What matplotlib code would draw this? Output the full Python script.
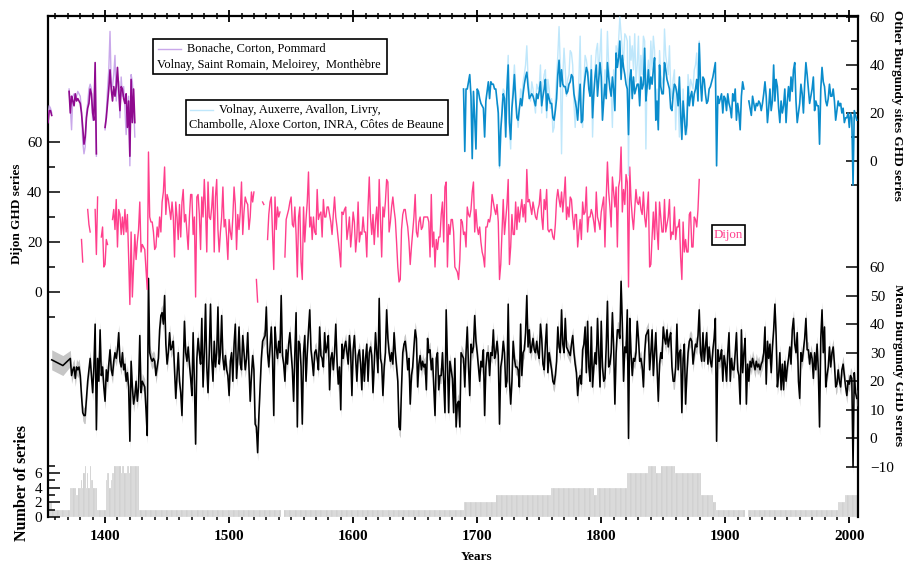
import numpy as np
import matplotlib
matplotlib.use("Agg")
import matplotlib.pyplot as plt
from matplotlib.patches import Rectangle
from matplotlib.lines import Line2D
from matplotlib.ticker import FixedLocator

nan = np.nan

# ---------------------------------------------------------------- data
# Mean Burgundy grape-harvest-date series (days), sparse start then annual
MEAN_EARLY_YEARS = [1357, 1366]
MEAN_EARLY = [27.5, 25.5]
MEAN_START = 1372
MEAN = [
    28, 22, 24, 25, 21, 25, 24, 25,
    22, 15, 9, 8, 8, 14, 20, 24, 28, 22,
    16, 25, 40, 3, 28, 20, 38, 22, 25, 18,
    13, 24, 20, 26, 31, 24, 22, 27, 30, 28,
    31, 37, 27, 25, 30, 24, 26, 20, 23, 18,
    -1, 27, 18, 12, 15, 20, 13, 18, 36, 16,
    20, 19, 18, 10, 1, 56, 30, 28, 27, 28,
    27, 22, 25, 28, 38, 43, 44, 40, 50, 33,
    26, 30, 37, 31, 32, 34, 24, 14, 22, 30,
    20, 16, 8, 25, 41, 30, 27, 32, 26, 21,
    15, 37, 20, -2, 28, 35, 30, 26, 42, 18,
    30, 47, 25, 16, 30, 47, 28, 20, 34, 25,
    30, 46, 26, 30, 43, 28, 24, 29, 24, 22,
    15, 27, 30, 20, 33, 40, 21, 28, 39, 26,
    24, 36, 30, 24, 28, 37, 25, 13, 22, 29,
    24, 5, 4, -5, 8, 18, 28, 34, 35, 36,
    46, 30, 25, 32, 39, 28, 8, 39, 32, 28,
    34, 30, 50, 29, 26, 20, 31, 26, 33, 37,
    30, 24, 13, 30, 44, 4, 34, 33, 25, 5,
    30, 36, 20, 30, 38, 45, 31, 27, 22, 30,
    31, 28, 24, 39, 29, 28, 25, 37, 30, 32,
    36, 17, 28, 30, 24, 30, 40, 27, 19, 25,
    10, 33, 28, 32, 34, 30, 26, 36, 30, 15,
    31, 36, 28, 20, 29, 31, 26, 17, 31, 20,
    28, 33, 20, 30, 32, 29, 16, 26, 37, 30,
    23, 49, 28, 26, 15, 25, 30, 45, 35, 30,
    27, 30, 26, 37, 30, 25, 20, 4, 3, 18,
    30, 33, 34, 30, 24, 28, 12, 22, 25, 32,
    38, 35, 18, 26, 29, 24, 27, 25, 26, 17,
    35, 30, 31, 24, 28, 18, 8, 28, 30, 17,
    22, 22, 30, 20, 9, 45, 27, 9, 27, 24,
    21, 9, 28, 4, 12, 13, 4, 30, 29, 28,
    18, 30, 39, 25, 15, 33, 30, 32, 43, 34,
    30, 25, 20, 27, 25, 31, 8, 25, 30, 30,
    22, 30, 29, 38, 28, 30, 34, 29, 5, 25,
    28, 34, 30, 18, 20, 47, 20, 12, 20, 34,
    28, 25, 25, 24, 18, 40, 22, 30, 31, 37,
    50, 32, 38, 30, 32, 35, 31, 30, 34, 30,
    28, 40, 35, 26, 24, 33, 40, 23, 30, 27,
    24, 20, 19, 22, 27, 39, 32, 30, 45, 33,
    30, 42, 32, 31, 30, 29, 33, 36, 30, 26,
    23, 15, 21, 22, 19, 31, 33, 39, 23, 41,
    25, 20, 39, 18, 25, 30, 26, 42, 30, 18,
    41, 25, 20, 21, 32, 48, 25, 26, 30, 44,
    32, 12, 30, 38, 38, 35, 55, 40, 20, 32,
    30, 45, 0, 42, 30, 22, 28, 27, 30, 41,
    35, 27, 28, 25, 18, 30, 36, 37, 38, 24,
    30, 38, 22, 30, 37, 25, 13, 26, 30, 28,
    39, 35, 33, 38, 32, 35, 37, 25, 20, 20,
    25, 40, 24, 30, 31, 9, 28, 33, 12, 22,
    30, 34, 35, 34, 26, 30, 33, 32, 36, 45,
    30, 27, 37, 27, 32, 37, 26, 32, 27, 25,
    31, 35, 42, -1, 31, 27, 28, 31, 20, 29,
    26, 20, 30, 37, 20, 28, 24, 24, 30, 37,
    24, 22, 12, 38, 23, 30, 35, 12, 26, 20,
    27, 25, 28, 26, 24, 27, 25, 26, 24, 26,
    27, 30, 39, 19, 34, 28, 33, 23, 32, 38,
    47, 36, 18, 22, 30, 17, 26, 17, 27, 20,
    25, 28, 32, 26, 38, 42, 33, 30, 37, 20,
    14, 30, 27, 31, 35, 42, 31, 31, 26, 30,
    28, 21, 30, 24, 33, 24, 4, 35, 45, 30,
    39, 18, 22, 25, 32, 25, 30, 32, 26, 18,
    19, 24, 20, 18, 24, 26, 22, 18, 15, 20,
    19, 22, 21, -10, 23, 16, 14,
]
MEAN_BAND_EARLY = 3.5
MEAN_BAND = 2.8

# Dijon series, annual from 1380 (nan = no harvest date)
DIJON_START = 1380
DIJON = [
    nan, 21, 12, nan, nan, nan, 33, 27, 24, nan,
    nan, nan, 33, 15, 38, nan, nan, 22, 26, 10,
    11, 21, 19, nan, nan, nan, 29, 33, 25, 37,
    18, 33, 31, 23, 30, 23, 33, 24, 31, 14,
    -5, 24, -2, 10, 23, 13, 20, 25, 36, 16,
    19, 18, 17, 9, 1, 56, 30, 28, 28, 24,
    17, 18, 26, 22, 30, 24, 36, 40, 50, 31,
    39, 37, 33, 29, 36, 30, 14, 36, 30, 21,
    35, 22, 36, 41, 28, 31, 24, 17, 30, 39,
    39, 23, 30, -2, 38, 39, 31, 17, 38, 30,
    45, 33, 16, 44, 30, 29, 34, 42, 16, 38,
    45, 25, 16, 24, 30, 42, 26, 29, 22, 13,
    29, 24, 21, 30, 42, 35, 17, 31, 25, 32,
    44, 23, 32, 38, 36, 35, 25, 30, 40, 36,
    40, nan, 5, -4, nan, nan, nan, 36, 35, nan,
    nan, 21, 31, 36, 38, 23, 9, 38, 25, 34,
    30, 32, nan, nan, nan, 14, 29, 31, 33, 36,
    38, 27, 26, 34, 23, 6, 30, 34, 12, 5,
    34, 20, 29, 36, 48, 26, 30, 21, 30, 24,
    23, 41, 29, 31, 32, 22, 37, 30, 30, 34,
    34, 31, 28, 23, 31, 38, 30, 26, 21, 16,
    10, 32, 31, 33, 34, 21, 25, 30, 18, 24,
    32, 28, 16, 22, 36, 20, 24, 23, 30, 24,
    24, 14, 34, 46, 30, 23, 31, 19, 28, 34,
    22, 45, 30, 14, 34, 30, 36, 45, 44, 24,
    28, 34, 38, 33, 29, 20, 10, 4, 5, 25,
    31, 33, 33, 29, 26, 20, 11, 18, 24, 30,
    39, 24, 22, 28, 30, 25, 26, 30, 30, 30,
    30, 28, 14, 39, 18, 24, 10, 21, 17, 22,
    22, 31, 36, 20, 42, 44, 10, 27, 23, 29,
    29, 24, 10, 9, 8, 5, 13, 29, 28, 23,
    24, 18, 34, 31, 30, 33, 40, 44, 24, 33,
    26, 23, 26, 20, 16, 14, 10, 26, 26, 29,
    28, 31, 39, 36, 33, 31, 35, 28, 5, 11,
    24, 37, 23, 29, 35, 45, 11, 18, 31, 23,
    23, 36, 25, 34, 28, 33, 37, 30, 35, 28,
    49, 36, 37, 34, 31, 36, 33, 30, 29, 33,
    35, 41, 30, 25, 37, 33, 41, 25, 24, 25,
    25, 22, 21, 27, 37, 41, 37, 34, 40, 32,
    38, 46, 29, 34, 30, 38, 37, 30, 25, 31,
    31, 18, 24, 29, 21, 36, 31, 32, 42, 24,
    30, 30, 33, 31, 28, 24, 40, 30, 28, 25,
    32, 35, 38, 18, 37, 52, 40, 34, 26, 46,
    40, 34, 42, 18, 42, 45, 58, 32, 41, 35,
    47, 44, 2, 50, 37, 30, 25, 33, 41, 36,
    35, 38, 33, 31, 40, 30, 26, 33, 40, 10,
    11, 22, 32, 21, 36, 25, 17, 36, 30, 24,
    24, 37, 24, 27, 30, 37, 21, 24, 23, 34,
    21, 26, 26, 29, 14, 5, 28, 16, 21, 16,
    16, 31, 32, 18, 18, 30, 29, 26, 33, 45,
]

# Other Burgundy sites: main series (dark blue) from 1680
SITES_START = 1680
SITES_DARK = [
    nan, nan, nan, nan, nan, nan, nan, nan, nan, 30,
    4, 30, 30, 33, 36, 27, 1, 29, 18, 5,
    30, 29, 26, 24, 23, 22, 10, 25, 29, 33,
    26, 33, 32, 32, 30, 30, 25, 20, -2, 13,
    20, 28, 26, 10, 30, 40, 16, 9, 22, 28,
    36, 26, 18, 17, 22, 26, 23, 28, 32, 35,
    37, 31, 26, 27, 28, 27, 25, 23, 28, 26,
    29, 33, 23, 27, 30, 34, 21, 28, 26, 24,
    24, 18, 17, 21, 26, 36, 42, 31, 38, 32,
    31, 31, 28, 29, 32, 33, 36, 35, 28, 25,
    22, 17, 25, 32, 16, 17, 30, 35, 39, 37,
    30, 27, 38, 18, 28, 35, 40, 27, 34, 41,
    35, 17, 25, 32, 26, 41, 35, 30, 27, 35,
    30, 21, 45, 39, 43, 50, 34, 44, 39, 36,
    32, 30, 11, 34, 38, 26, 35, 28, 30, 32,
    32, 23, 35, 30, 32, 47, 25, 31, 38, 30,
    35, 32, 38, 43, 17, 25, 13, 40, 31, 28,
    28, 41, 38, 34, 32, 30, 22, 21, 28, 32,
    31, 28, 23, 35, 20, 9, 25, 18, 11, 15,
    31, 23, 27, 29, 23, 28, 30, 34, 25, 49,
    33, 25, 35, 34, 28, 24, 25, 30, 31, 33,
    35, 38, 41, -2, 27, 24, 26, 28, 20, 27,
    26, 21, 28, 24, 22, 18, 28, 25, 30, 17,
    24, 20, 13, 27, 33, 30, nan, nan, nan, 25,
    22, 19, 27, 24, 21, 24, 23, 25, 24, 21,
    24, 28, 33, 27, 16, 22, 30, 21, 25, 40,
    25, 34, 31, 22, 16, 25, 20, 23, 30, 16,
    25, 31, 25, 35, 29, 38, 41, 25, 16, 20,
    24, 32, 28, 20, 32, 41, 36, 30, 24, 27,
    30, 35, 21, 25, 23, 23, 7, 30, 39, 33,
    31, 25, 23, 26, 32, 27, 27, 30, 25, 17,
    21, 25, 23, 24, 20, 22, 16, 18, 18, 20,
    14, 20, 18, -10, 21, 19, 17,
]

# Volnay, Auxerre, Avallon, Livry, Chambolle, ... (light blue) from 1710
SITES_LIGHT_START = 1710
SITES_LIGHT = [
    nan, nan, nan, nan, nan, nan, 24, 22, -3, 8,
    24, 30, 29, 14, 33, 44, 12, 5, 24, 32,
    40, 30, 20, 14, 20, 30, 26, 33, 36, 40,
    48, 35, 30, 25, 33, 30, 24, 20, 32, 30,
    31, 40, 20, 32, 36, 38, 18, 34, 30, 22,
    26, 12, 14, 25, 35, 44, 56, 40, 3, 35,
    47, 38, 27, 34, 36, 46, 45, 40, 24, 14,
    25, 20, 34, 52, 20, 14, 32, 44, 42, 38,
    34, 30, 44, 10, 26, 38, 46, 49, 36, 45,
    55, 22, 30, 38, 32, 54, 40, 33, 30, 14,
    38, 28, 48, 44, 50, 60, 53, 46, 42, 53,
    52, 50, -6, 52, 42, 48, 38, 53, 33, 40,
    52, 28, 44, 36, 52, 50, 5, 36, 42, 34,
    50, 38, 52, 46, 22, 30, 18, 46, 36, 34,
    32, 55, 44, 40, 36, 48, 30, 26, 34, 38,
    13, 30, 26, 10, 24, 12, 30, 20, 16, 11,
    36, 28, 34, 32, 30, 38, 40, 45, 32, 50,
    34,
]

# Bonache, Corton, Pommard, Volnay, ... : mean (dark) and sites (light), from 1354
EARLY_START = 1354
EARLY_DARK = [
    16, 21, 21, 19, nan, nan,
    nan, nan, nan, nan, nan, nan, nan, nan, nan, nan,
    nan, 29, 20, 27, 25, 23, 28, 25, 26, 25,
    24, 20, 14, 7, 10, 18, 22, 24, 30, 28,
    20, 17, 41, 3, nan, nan, nan, nan, nan, nan,
    14, 18, 24, 30, 38, 30, 25, 31, 27, 31,
    39, 30, 21, 31, 30, 26, 24, 28, 14, 25,
    2, 34, 16, 30, 16,
]
EARLY_LIGHT = [
    18, 23, 22, 20, nan, nan,
    nan, nan, nan, nan, nan, nan, nan, nan, nan, nan,
    nan, 30, 22, 13, 27, 28, 26, 27, 29, 28,
    27, 21, 8, 3, 6, 20, 24, 30, 32, 30,
    17, 22, 37, 2, nan, nan, nan, nan, nan, nan,
    13, 20, 30, 38, 54, 31, 31, 36, 44, 25,
    35, 33, 18, 35, 27, 31, 22, 11, 20, 27,
    -2, 36, 33, 24, 10,
]

# Number of series contributing, as runs of years
COUNT_FIRST = [1354, 1358, 1372, 1377, 1379, 1381, 1382, 1383, 1384, 1385,
               1386, 1387, 1388, 1389, 1391, 1394, 1401, 1402, 1404, 1405,
               1406, 1408, 1413, 1414, 1416, 1418, 1420, 1421, 1428, 1542,
               1545, 1690, 1716, 1760, 1795, 1797, 1821, 1838, 1845, 1849,
               1860, 1881, 1891, 1893, 1916, 1919, 1991, 1997]
COUNT_LAST = [1357, 1371, 1376, 1378, 1380, 1381, 1382, 1383, 1384, 1385,
              1386, 1387, 1388, 1390, 1393, 1400, 1401, 1403, 1404, 1405,
              1407, 1412, 1413, 1415, 1417, 1419, 1420, 1427, 1541, 1544,
              1689, 1715, 1759, 1794, 1796, 1820, 1837, 1844, 1848, 1859,
              1880, 1890, 1892, 1915, 1918, 1990, 1996, 2006]
COUNT_N = [2, 1, 4, 3, 4, 5, 4, 6, 7, 4,
           6, 4, 7, 5, 4, 1, 5, 6, 4, 5,
           6, 7, 6, 7, 6, 7, 6, 7, 1, 0,
           1, 2, 3, 4, 3, 4, 6, 7, 6, 7,
           6, 3, 2, 1, 0, 1, 2, 3]

X_TICKS = [1400, 1500, 1600, 1700, 1800, 1900, 2000]

# ---------------------------------------------------------------- style
C_DIJON = "#ff3f8c"
C_DARKBLUE = "#0a8ccc"
C_LIGHTBLUE = "#bfe7fb"
C_DARKPURPLE = "#8f0a8f"
C_LIGHTPURPLE = "#c9a8ea"
C_BAND = "#c6c6c6"
C_BAR = "#cccccc"

plt.rcParams['font.family'] = ['Liberation Serif', 'DejaVu Serif']

W, H = 904, 563
L, R, T, B = 48, 858, 16, 517
XLIM = (1354.0, 2007.0)
rect = [L / W, 1 - B / H, (R - L) / W, (B - T) / H]


def fx(x):
    return x / W


def fy(y):
    return 1 - y / H


fig = plt.figure(figsize=(W / 100, H / 100), dpi=100)


def layer():
    ax = fig.add_axes(rect)
    ax.set_xlim(*XLIM)
    ax.patch.set_visible(False)
    for s in ax.spines.values():
        s.set_visible(False)
    ax.tick_params(axis='both', which='both', bottom=False, top=False,
                   left=False, right=False, labelbottom=False, labeltop=False,
                   labelleft=False, labelright=False)
    return ax


TICK_MAJ = dict(direction='in', length=8.5, width=1.1, labelsize=11)
TICK_MIN = dict(direction='in', length=5, width=1.1)

# --- number of series (bottom band), frame and x axis
ax_n = layer()
bar_years, bar_counts = [], []
for a, b, n in zip(COUNT_FIRST, COUNT_LAST, COUNT_N):
    for yr in range(a, b + 1):
        bar_years.append(yr)
        bar_counts.append(n)
ax_n.bar(bar_years, bar_counts, width=1.0, color=C_BAR, edgecolor='white',
         linewidth=0.15, align='center')
ax_n.set_ylim(0, (B - T) / 7.33)
for side in ('left', 'right', 'top'):
    ax_n.spines[side].set_visible(True)
    ax_n.spines[side].set_linewidth(1.6)
ax_n.yaxis.set_major_locator(FixedLocator([0, 2, 4, 6]))
ax_n.yaxis.set_minor_locator(FixedLocator([1, 3, 5, 7]))
ax_n.tick_params(axis='y', which='major', left=True, labelleft=True, pad=4, **TICK_MAJ)
ax_n.tick_params(axis='y', which='minor', left=True, **TICK_MIN)
ax_n.set_xticks(X_TICKS, labels=[str(v) for v in X_TICKS], fontweight='bold')
ax_n.xaxis.set_minor_locator(FixedLocator(list(range(1360, 2007, 10))))
ax_n.tick_params(axis='x', which='major', bottom=True, labelbottom=True,
                 direction='out', length=4.5, width=1.3, pad=5, labelsize=11)
ax_n.tick_params(axis='x', which='minor', bottom=True, direction='out',
                 length=1.8, width=1.1)
ax_n.set_xlim(*XLIM)

# --- mean Burgundy series
ax_m = layer()
m_years = np.array(MEAN_EARLY_YEARS + list(range(MEAN_START, MEAN_START + len(MEAN))))
m_vals = np.array(MEAN_EARLY + MEAN, dtype=float)
m_hw = np.array([MEAN_BAND_EARLY] * len(MEAN_EARLY) + [MEAN_BAND] * len(MEAN))
ax_m.fill_between(m_years, m_vals - m_hw, m_vals + m_hw, color=C_BAND, lw=0)
ax_m.plot(m_years, m_vals, color='black', lw=1.15)
ax_m.set_ylim(-(B - 438.4) / 2.857, (438.4 - T) / 2.857)
ax_m.yaxis.tick_right()
ax_m.yaxis.set_major_locator(FixedLocator(list(range(-10, 61, 10))))
ax_m.tick_params(axis='y', which='major', left=False, labelleft=False,
                 right=True, labelright=True, pad=8.5, **TICK_MAJ)
ax_m.set_xlim(*XLIM)

# --- Dijon series
ax_d = layer()
d_years = np.arange(DIJON_START, DIJON_START + len(DIJON))
ax_d.plot(d_years, DIJON, color=C_DIJON, lw=1.0)
ax_d.set_ylim(-(B - 292) / 2.5, 60 + (142 - T) / 2.5)
ax_d.yaxis.set_major_locator(FixedLocator([0, 20, 40, 60]))
ax_d.yaxis.set_minor_locator(FixedLocator([-10, 10, 30, 50]))
ax_d.tick_params(axis='y', which='major', left=True, labelleft=True, pad=4, **TICK_MAJ)
ax_d.tick_params(axis='y', which='minor', left=True, **TICK_MIN)
ax_d.set_xlim(*XLIM)

# --- other Burgundy sites
ax_o = layer()
e_years = np.arange(EARLY_START, EARLY_START + len(EARLY_DARK))
ax_o.plot(e_years, EARLY_LIGHT, color=C_LIGHTPURPLE, lw=1.0)
ax_o.plot(e_years, EARLY_DARK, color=C_DARKPURPLE, lw=1.2)
l_years = np.arange(SITES_LIGHT_START, SITES_LIGHT_START + len(SITES_LIGHT))
ax_o.plot(l_years, SITES_LIGHT, color=C_LIGHTBLUE, lw=1.0)
s_years = np.arange(SITES_START, SITES_START + len(SITES_DARK))
ax_o.plot(s_years, SITES_DARK, color=C_DARKBLUE, lw=1.2)
ax_o.set_ylim(-(B - 161) / 2.4, 60 + (17 - T) / 2.4)
ax_o.yaxis.tick_right()
ax_o.yaxis.set_major_locator(FixedLocator([0, 20, 40, 60]))
ax_o.yaxis.set_minor_locator(FixedLocator([-10, 10, 30, 50]))
ax_o.tick_params(axis='y', which='major', left=False, labelleft=False,
                 right=True, labelright=True, pad=8.5, **TICK_MAJ)
ax_o.tick_params(axis='y', which='minor', left=False, right=True, **TICK_MIN)
ax_o.xaxis.tick_top()
ax_o.xaxis.set_major_locator(FixedLocator(X_TICKS))
ax_o.xaxis.set_minor_locator(FixedLocator(list(range(1360, 2007, 10))))
ax_o.tick_params(axis='x', which='major', top=True, bottom=False, labeltop=False,
                 direction='inout', length=8, width=1.3)
ax_o.tick_params(axis='x', which='minor', top=True, bottom=False,
                 direction='inout', length=5, width=1.1)
ax_o.set_xlim(*XLIM)

# ---------------------------------------------------------------- labels
fig.text(fx(17.5), fy(214), "Dijon GHD series", rotation=90, ha='center',
         va='center', fontsize=9.5, fontweight='bold')
fig.text(fx(22.5), fy(483), "Number of series", rotation=90, ha='center',
         va='center', fontsize=11.5, fontweight='bold')
fig.text(fx(897), fy(105), "Other Burgundy sites GHD series", rotation=270,
         ha='center', va='center', fontsize=9.5, fontweight='bold')
fig.text(fx(898), fy(365), "Mean Burgundy GHD series", rotation=270,
         ha='center', va='center', fontsize=9.5, fontweight='bold')
fig.text(fx(477), fy(557), "Years", ha='center', va='center',
         fontsize=9.5, fontweight='bold')

LEG_FS = 8.9


def box(x0, y0, x1, y1):
    fig.add_artist(Rectangle((fx(x0), fy(y1)), (x1 - x0) / W, (y1 - y0) / H,
                             transform=fig.transFigure, facecolor='white',
                             edgecolor='black', lw=1.2, zorder=10))


def sample(x0, x1, y, color):
    fig.add_artist(Line2D([fx(x0), fx(x1)], [fy(y), fy(y)],
                          transform=fig.transFigure, color=color, lw=1.0,
                          zorder=11))


box(153, 39, 387, 74)
sample(158, 181, 49, C_LIGHTPURPLE)
fig.text(fx(187), fy(49), "Bonache, Corton, Pommard", ha='left', va='center',
         fontsize=LEG_FS, zorder=11)
fig.text(fx(157), fy(65), "Volnay, Saint Romain, Meloirey,  Monthèbre",
         ha='left', va='center', fontsize=LEG_FS, zorder=11)

box(186, 100, 448, 135)
sample(190, 213, 110, C_LIGHTBLUE)
fig.text(fx(219), fy(110), "Volnay, Auxerre, Avallon, Livry,", ha='left',
         va='center', fontsize=LEG_FS, zorder=11)
fig.text(fx(189), fy(125), "Chambolle, Aloxe Corton, INRA, Côtes de Beaune",
         ha='left', va='center', fontsize=LEG_FS, zorder=11)

box(712, 225, 745, 245)
fig.text(fx(728.5), fy(235), "Dijon", ha='center', va='center', fontsize=9.3,
         color=C_DIJON, zorder=11)

fig.savefig("out.png", dpi=100)
